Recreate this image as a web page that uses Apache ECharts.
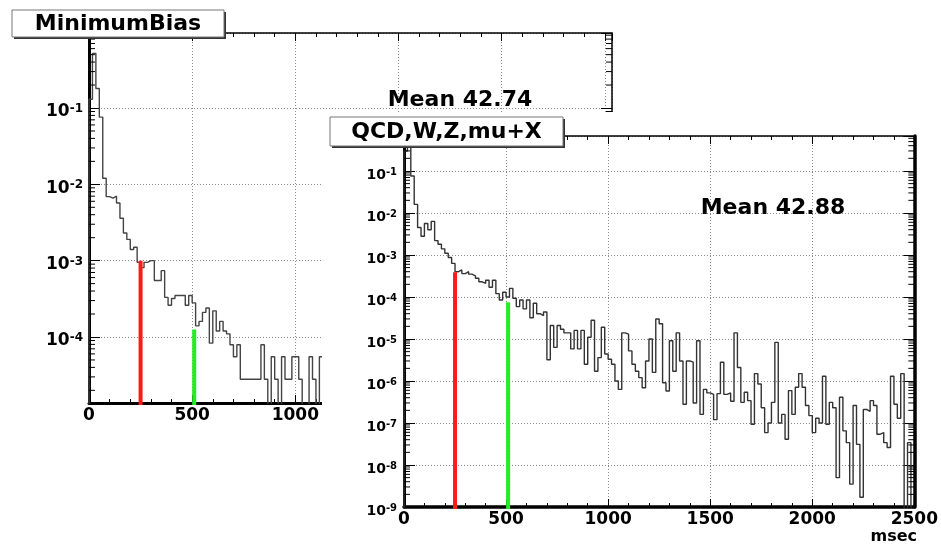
<!DOCTYPE html>
<html><head><meta charset="utf-8">
<script src="https://cdn.jsdelivr.net/npm/echarts@6/dist/echarts.min.js"></script>
<style>html,body{margin:0;padding:0;background:#fff;}#c{width:941px;height:544px;}</style>
</head><body><div id="c"></div>
<script>
// ---------------- data ----------------
const binWidth = 2500 / 150; // ms per histogram bin
const leftTitle = 'MinimumBias';
const rightTitle = 'QCD,W,Z,mu+X';
const leftMeanText = 'Mean 42.74';
const rightMeanText = 'Mean 42.88';
const xUnit = 'msec';
const leftXTickLabels = [0, 500, 1000, 1500, 2000, 2500];
const rightXTickLabels = [0, 500, 1000, 1500, 2000, 2500];
const leftYExponents = [-1, -2, -3, -4];
const rightYExponents = [-1, -2, -3, -4, -5, -6, -7, -8, -9];
// MinimumBias histogram (fraction per bin)
const leftValues = [
  0.13, 0.52, 0.18, 7.6e-2, 1.2e-2, 6.9e-3, 6.6e-3, 7.0e-3, 5.7e-3, 3.6e-3,
  2.3e-3, 1.9e-3, 1.4e-3, 1.5e-3, 9.5e-4, 8.1e-4, 9.5e-4, 1.0e-3, 1.0e-3, 5.5e-4,
  5.5e-4, 7.4e-4, 3.3e-4, 2.6e-4, 3.2e-4, 3.5e-4, 3.5e-4, 3.5e-4, 2.6e-4, 3.5e-4,
  2.8e-4, 1.4e-4, 1.6e-4, 2.1e-4, 2.4e-4, 8.3e-5, 2.2e-4, 1.2e-4, 1.6e-4, 1.2e-4,
  1.1e-4, 7.9e-5, 5.5e-5, 7.9e-5, 2.8e-5, 2.8e-5, 2.8e-5, 2.8e-5, 2.8e-5, 2.8e-5,
  7.9e-5, 2.8e-5, 0, 5.5e-5, 2.8e-5, 0, 5.5e-5, 2.8e-5, 2.8e-5, 5.5e-5,
  5.5e-5, 2.8e-5, 0, 0, 5.5e-5, 2.8e-5, 0, 5.5e-5, 5.5e-5
];
// QCD,W,Z,mu+X histogram (fraction per bin)
const rightValues = [
  0.30, 0.38, 7.6e-2, 1.6e-2, 4.5e-3, 2.8e-3, 5.6e-3, 4.0e-3, 6.3e-3, 2.2e-3,
  1.8e-3, 1.4e-3, 1.1e-3, 8.7e-4, 6.3e-4, 4.0e-4, 4.4e-4, 3.6e-4, 4.0e-4, 3.5e-4,
  3.2e-4, 2.8e-4, 2.3e-4, 2.1e-4, 2.5e-4, 1.7e-4, 2.5e-4, 1.2e-4, 8.5e-5, 1.3e-4,
  1.0e-4, 1.6e-4, 9.3e-5, 5.9e-5, 8.5e-5, 5.2e-5, 8.5e-5, 3.2e-5, 7.1e-5, 4.0e-5,
  3.6e-5, 4.4e-5, 3.2e-6, 2.1e-5, 6.3e-6, 2.1e-5, 1.7e-5, 1.4e-5, 1.4e-5, 5.8e-6,
  1.6e-5, 5.8e-6, 1.6e-5, 2.5e-6, 1.1e-5, 2.8e-5, 1.7e-6, 3.6e-6, 1.9e-5, 4.4e-6,
  3.3e-6, 2.5e-6, 1.0e-6, 6.3e-7, 1.4e-5, 1.3e-5, 5.2e-6, 2.5e-6, 1.7e-6, 1.2e-6,
  6.9e-7, 3.0e-6, 1.0e-5, 1.6e-6, 3.0e-5, 2.3e-5, 9.1e-7, 5.8e-7, 9.1e-6, 1.7e-6,
  1.4e-5, 3.0e-6, 2.8e-7, 3.0e-6, 2.8e-6, 3.0e-7, 9.1e-6, 1.6e-7, 6.3e-7, 5.2e-7,
  4.8e-7, 1.2e-7, 5.0e-7, 2.8e-6, 4.8e-7, 5.2e-7, 3.3e-7, 1.4e-5, 2.1e-6, 3.1e-7,
  5.4e-7, 3.4e-7, 9.3e-8, 1.5e-6, 8.5e-7, 2.3e-7, 5.9e-8, 1.0e-7, 3.1e-7, 8.3e-6,
  1.0e-7, 1.6e-7, 4.1e-8, 5.9e-7, 1.6e-7, 7.1e-7, 1.5e-6, 7.1e-7, 2.6e-7, 1.5e-7,
  5.9e-8, 1.3e-7, 1.0e-7, 1.3e-6, 9.3e-8, 3.1e-7, 2.3e-7, 5.0e-9, 4.1e-7, 6.5e-8,
  3.4e-8, 3.5e-9, 2.6e-7, 3.1e-8, 1.7e-9, 2.1e-7, 1.9e-7, 3.4e-7, 2.6e-7, 5.4e-8,
  5.9e-8, 3.4e-8, 2.6e-8, 1.3e-6, 2.8e-7, 1.3e-7, 1.5e-6, 0, 3.4e-8, 0
];
// timing cut lines (ms) and their heights
const cutPositions = [250, 510];
const cutColors = ['#ff1a1a', '#22ee22'];
const leftCutTops = [1.0e-3, 1.25e-4];
const rightCutTops = [3.9e-4, 7.5e-5];

// ---------------- helpers ----------------
const FONT = '"DejaVu Sans", sans-serif';
const FLOOR = 1e-14;
const L = {xMax: 2535, yMin: 1.365e-5, yMax: 0.961};
const R = {xMax: 2500, yMin: 1e-9, yMax: 0.68};

function stepData(values) {
  const pts = [[0, FLOOR]];
  values.forEach((v, i) => pts.push([i * binWidth, v > 0 ? v : FLOOR]));
  pts.push([values.length * binWidth, FLOOR]);
  return pts;
}
function isPow10(v, list) {
  const e = Math.log10(v), r = Math.round(e);
  return Math.abs(e - r) < 1e-6 && list.indexOf(r) >= 0 ? r : null;
}
function minorValues(min, max) {
  const out = [];
  for (let e = -12; e <= 1; e++) for (let m = 2; m <= 9; m++) {
    const v = m * Math.pow(10, e);
    if (v > min && v < max) out.push(v);
  }
  return out;
}
const grid0 = {left: 89, top: 33, width: 523, height: 370};
const grid1 = {left: 404, top: 136, width: 513, height: 371};
const dotted = {color: '#8a8a8a', width: 1, type: [1, 2]};

function xAxisBottom(gi, max, fs, list, z, lineW) {
  return {
    type: 'value', gridIndex: gi, position: 'bottom', min: 0, max: max, interval: 500, z: z,
    axisLine: {show: true, onZero: false, lineStyle: {color: '#000', width: lineW}},
    axisTick: {show: true, inside: true, length: 8, lineStyle: {color: '#000', width: 1}},
    minorTick: {show: true, splitNumber: 5, length: 4, lineStyle: {color: '#000', width: 1}},
    splitLine: {show: true, lineStyle: dotted},
    axisLabel: {show: true, margin: 4, color: '#000', fontFamily: FONT, fontWeight: 'bold', fontSize: fs,
      showMaxLabel: true, hideOverlap: false,
      formatter: v => (list.indexOf(v) >= 0 ? String(v) : '')}
  };
}
function xAxisTop(gi, max, z) {
  return {
    type: 'value', gridIndex: gi, position: 'top', min: 0, max: max, interval: 500, z: z,
    axisLine: {show: true, onZero: false, lineStyle: {color: '#000', width: 1.5}},
    axisTick: {show: true, inside: true, length: 8, lineStyle: {color: '#000', width: 1}},
    minorTick: {show: true, splitNumber: 5, length: 4, lineStyle: {color: '#000', width: 1}},
    splitLine: {show: false}, axisLabel: {show: false}
  };
}
function yAxisLeft(gi, min, max, fs, sfs, list, z, margin) {
  return {
    type: 'log', gridIndex: gi, position: 'left', min: min, max: max, logBase: 10, splitNumber: 5, z: z,
    axisLine: {show: true, onZero: false, lineStyle: {color: '#000', width: 3}},
    axisTick: {show: true, inside: true, length: 11, lineStyle: {color: '#000', width: 1}},
    splitLine: {show: true, lineStyle: dotted},
    axisLabel: {show: true, margin: margin, padding: [8, 0, 0, 0], showMinLabel: true, showMaxLabel: true,
      formatter: v => { const r = isPow10(v, list); return r === null ? '' : '{b|10}{s|' + r + '}'; },
      rich: {
        b: {fontFamily: FONT, fontWeight: 'bold', fontSize: fs, lineHeight: fs + 1, color: '#000'},
        s: {fontFamily: FONT, fontWeight: 'bold', fontSize: sfs, lineHeight: sfs, color: '#000', verticalAlign: 'top'}
      }}
  };
}
function yAxisRight(gi, min, max, z, lineW) {
  return {
    type: 'log', gridIndex: gi, position: 'right', min: min, max: max, logBase: 10, splitNumber: 5, z: z,
    axisLine: {show: true, onZero: false, lineStyle: {color: '#000', width: lineW}},
    axisTick: {show: true, inside: true, length: 11, lineStyle: {color: '#000', width: 1}},
    splitLine: {show: false}, axisLabel: {show: false}
  };
}
function minorTickSeries(xi, yi, min, max, xMax, z) {
  return {
    type: 'custom', xAxisIndex: xi, yAxisIndex: yi, z: z, silent: true, clip: false,
    data: minorValues(min, max).map(v => [0, v]),
    renderItem: (params, api) => {
      const v = api.value(1);
      const a = api.coord([0, v]), b = api.coord([xMax, v]);
      const st = {stroke: '#000', lineWidth: 1};
      return {type: 'group', children: [
        {type: 'line', shape: {x1: a[0], y1: a[1], x2: a[0] + 6, y2: a[1]}, style: st},
        {type: 'line', shape: {x1: b[0] - 6, y1: b[1], x2: b[0], y2: b[1]}, style: st}
      ]};
    }
  };
}
function histSeries(xi, yi, values, color, width, z) {
  return {
    type: 'line', xAxisIndex: xi, yAxisIndex: yi, step: 'end', symbol: 'none', clip: true, z: z,
    data: stepData(values), lineStyle: {color: color, width: width}, silent: true
  };
}
function cutSeries(xi, yi, x, top, color, z) {
  return {
    type: 'line', xAxisIndex: xi, yAxisIndex: yi, symbol: 'none', clip: true, z: z,
    data: [[x, FLOOR], [x, top]], lineStyle: {color: color, width: 4}, silent: true
  };
}
function titleBox(x, y, w, h, text, z) {
  return [
    {type: 'rect', z: z, shape: {x: x + 2, y: y + 2, width: w, height: h}, style: {fill: '#333'}},
    {type: 'rect', z: z + 1, shape: {x: x, y: y, width: w, height: h}, style: {fill: '#fff', stroke: '#777', lineWidth: 1}},
    {type: 'text', z: z + 2, x: x + w / 2, y: y + h / 2 + 1,
      style: {text: text, font: 'bold 22px ' + FONT, fill: '#000', align: 'center', verticalAlign: 'middle'}}
  ];
}

// ---------------- chart ----------------
const chart = echarts.init(document.getElementById('c'), null, {renderer: 'canvas'});
const series = [
  histSeries(0, 0, leftValues, '#444', 1.4, 2),
  minorTickSeries(0, 0, L.yMin, L.yMax, L.xMax, 3),
];
cutPositions.forEach((x, i) => series.push(cutSeries(0, 0, x, leftCutTops[i], cutColors[i], 3)));
series.push(histSeries(2, 2, rightValues, '#333', 1.4, 30));
series.push(minorTickSeries(2, 2, R.yMin, R.yMax, R.xMax, 31));
cutPositions.forEach((x, i) => series.push(cutSeries(2, 2, x, rightCutTops[i], cutColors[i], 32)));

chart.setOption({
  animation: false,
  backgroundColor: '#fff',
  grid: [grid0, grid1],
  xAxis: [
    xAxisBottom(0, L.xMax, 17, leftXTickLabels, 1, 3),
    xAxisTop(0, L.xMax, 1),
    xAxisBottom(1, R.xMax, 17, rightXTickLabels, 20, 3.5),
    xAxisTop(1, R.xMax, 20)
  ],
  yAxis: [
    yAxisLeft(0, L.yMin, L.yMax, 17, 12, leftYExponents, 1, 6),
    yAxisRight(0, L.yMin, L.yMax, 1, 1.5),
    yAxisLeft(1, R.yMin, R.yMax, 14, 10, rightYExponents, 20, 7),
    yAxisRight(1, R.yMin, R.yMax, 20, 3.5)
  ],
  series: series,
  graphic: [
    {type: 'rect', z: 10, shape: {x: 322, y: 112, width: 619, height: 432}, style: {fill: '#fff'}},
    ...titleBox(12, 10, 212, 27, leftTitle, 5),
    ...titleBox(330, 117, 233, 29, rightTitle, 40),
    {type: 'text', z: 45, x: 460, y: 100,
      style: {text: leftMeanText, font: 'bold 22px ' + FONT, fill: '#000', align: 'center', verticalAlign: 'middle'}},
    {type: 'text', z: 45, x: 773, y: 208,
      style: {text: rightMeanText, font: 'bold 22px ' + FONT, fill: '#000', align: 'center', verticalAlign: 'middle'}},
    {type: 'text', z: 45, x: 917, y: 537,
      style: {text: xUnit, font: 'bold 16px ' + FONT, fill: '#000', align: 'right', verticalAlign: 'middle'}}
  ]
});
</script></body></html>
